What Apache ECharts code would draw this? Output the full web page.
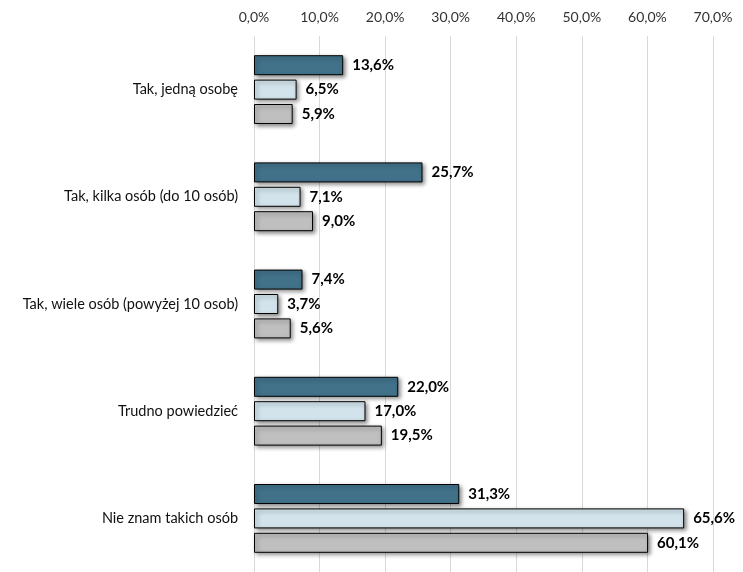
<!DOCTYPE html>
<html>
<head>
<meta charset="utf-8">
<script src="https://cdn.jsdelivr.net/npm/echarts@6/dist/echarts.min.js"></script>
<style>html,body{margin:0;padding:0;background:#fff;}#c{width:743px;height:572px;}</style>
</head>
<body>
<div id="c"></div>
<script>
const categories = ["Tak, jedną osobę", "Tak, kilka osób (do 10 osób)", "Tak, wiele osób (powyżej 10 osob)", "Trudno powiedzieć", "Nie znam takich osób"];
const series1 = [13.6, 25.7, 7.4, 22.0, 31.3];
const series2 = [6.5, 7.1, 3.7, 17.0, 65.6];
const series3 = [5.9, 9.0, 5.6, 19.5, 60.1];
const colors = ["#41728A", "#D2E3EB", "#BFBFBF"];
const FONT = "Lato, 'Open Sans', sans-serif";
const fmt = v => v.toFixed(1).replace('.', ',') + '%';

function mk(name, data, color) {
  return {
    name: name, type: 'bar', data: data, barWidth: 20, barGap: '22%',
    itemStyle: { color: color, borderColor: '#000', borderWidth: 1,
      shadowColor: 'rgba(0,0,0,0.45)', shadowBlur: 4, shadowOffsetX: 2, shadowOffsetY: 2 },
    label: { show: true, position: 'right', distance: 9, formatter: p => fmt(p.value),
      fontFamily: FONT, fontWeight: 'bold', fontSize: 15, color: '#000' }
  };
}

const chart = echarts.init(document.getElementById('c'));
chart.setOption({
  animation: false,
  backgroundColor: '#fff',
  grid: { left: 254, right: 30, top: 36, bottom: 0, containLabel: false },
  xAxis: {
    type: 'value', position: 'top', min: 0, max: 70, interval: 10,
    axisLine: { show: false }, axisTick: { show: false },
    splitLine: { show: true, lineStyle: { color: '#D9D9D9', width: 1 } },
    axisLabel: { formatter: v => fmt(v), fontFamily: FONT, fontSize: 14, color: '#333', margin: 12 }
  },
  yAxis: {
    type: 'category', data: categories, inverse: true,
    axisLine: { show: false }, axisTick: { show: false },
    axisLabel: { fontFamily: FONT, fontSize: 14.5, color: '#111', margin: 16 }
  },
  series: [mk('A', series1, colors[0]), mk('B', series2, colors[1]), mk('C', series3, colors[2])]
});
</script>
</body>
</html>
